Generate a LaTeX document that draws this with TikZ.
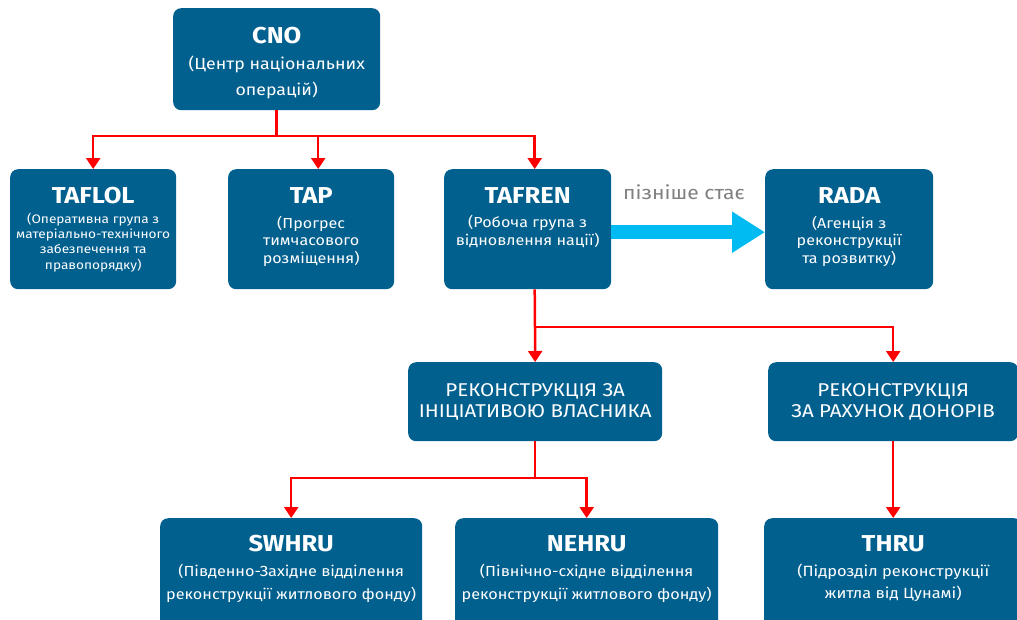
\documentclass[tikz,border=0pt]{standalone}
\usepackage{fontspec}
\setmainfont{Fira Sans}[FakeStretch=1.11]
\usetikzlibrary{arrows.meta}
\definecolor{boxblue}{HTML}{02608F}
\definecolor{arrcyan}{HTML}{00BAF2}
\definecolor{linered}{HTML}{FF0000}
\definecolor{notegray}{HTML}{808080}
% #1 width, #2 height, #3 title baseline, #4 title, #5 gap, #6 size, #7 lead, #8 lines
\newcommand\orgbox[8]{\parbox[c][#2][t]{#1}{\parskip=0pt\centering\rule{0pt}{#3}{\fontsize{23}{23}\selectfont\bfseries #4}\par\vspace{\dimexpr#5-#7\relax}\fontsize{#6}{#7}\selectfont #8\par}}
% #1 width, #2 height, #3 first baseline, #4 size, #5 lead, #6 lines
\newcommand\midbox[6]{\parbox[c][#2][t]{#1}{\parskip=0pt\centering\fontsize{#4}{#5}\selectfont\rule{0pt}{#3}#6\par}}
\begin{document}
\begin{tikzpicture}[x=1pt,y=-1pt,
  orgnode/.style={fill=boxblue, rounded corners=8pt, inner sep=0pt, text=white, anchor=north west},
  link/.style={draw=linered, line width=2.5pt, line join=miter},
  linkarrow/.style={link, -{Triangle[width=14pt,length=11pt]}},
  note/.style={text=notegray, font=\fontsize{19}{19}\selectfont}]
\useasboundingbox (0,0) rectangle (1017,619);
\clip (0,0) rectangle (1017,619);

\node[orgnode] (cno) at (173,8) {\orgbox{207pt}{102pt}{35pt}{CNO}{26pt}{16}{26pt}{(Центр національних\\операцій)}};
\node[orgnode] (taflol) at (10,169) {\orgbox{166pt}{120pt}{34pt}{TAFLOL}{20pt}{12.3}{15.3pt}{(Оперативна група з\\матеріально-технічного\\забезпечення та\\правопорядку)}};
\node[orgnode] (tap) at (228,169) {\orgbox{166pt}{120pt}{34pt}{TAP}{25pt}{14.5}{17.5pt}{(Прогрес\\тимчасового\\розміщення)}};
\node[orgnode] (tafren) at (444,169) {\orgbox{167pt}{120pt}{34pt}{TAFREN}{24pt}{14.5}{18pt}{(Робоча група з\\відновлення нації)}};
\node[orgnode] (rada) at (765,169) {\orgbox{168pt}{120pt}{34pt}{RADA}{25pt}{14.5}{17.5pt}{(Агенція з\\реконструкції\\та розвитку)}};
\node[orgnode] (m1) at (408,362) {\midbox{254pt}{79pt}{34pt}{18.5}{21pt}{РЕКОНСТРУКЦІЯ ЗА\\ІНІЦІАТИВОЮ ВЛАСНИКА}};
\node[orgnode] (m2) at (768,362) {\midbox{250pt}{79pt}{34pt}{18.5}{21pt}{РЕКОНСТРУКЦІЯ\\ЗА РАХУНОК ДОНОРІВ}};
\node[orgnode] (swhru) at (160,518) {\orgbox{262pt}{110pt}{33pt}{SWHRU}{25pt}{14.6}{23.5pt}{(Південно-Західне відділення\\\mbox{реконструкції житлового фонду)}}};
\node[orgnode] (nehru) at (455,518) {\orgbox{263pt}{110pt}{33pt}{NEHRU}{25pt}{14.6}{23.5pt}{(Північно-східне відділення\\\mbox{реконструкції житлового фонду)}}};
\node[orgnode] (thru) at (764,518) {\orgbox{258pt}{110pt}{33pt}{THRU}{25pt}{14.8}{22pt}{(Підрозділ реконструкції\\житла від Цунамі)}};

\node[note] (later) at (684,192) {пізніше стає};

\coordinate (j1) at (cno.south |- 0,136);
\coordinate (j2) at (535,327);
\coordinate (j3) at (m1.south |- 0,478);

\draw[link] (cno.south) -- (j1);
\draw[linkarrow] (j1) -| (taflol.north);
\draw[linkarrow] (j1) -| ([xshift=7pt]tap.north);
\draw[linkarrow] (j1) -| ([xshift=7pt]tafren.north);
\draw[link] ([xshift=7pt]tafren.south) -- (j2);
\draw[linkarrow] (j2) -- (m1.north);
\draw[linkarrow] (j2) -| (m2.north);
\draw[link] (m1.south) -- (j3);
\draw[linkarrow] (j3) -| (swhru.north);
\draw[linkarrow] (j3) -| (nehru.north);
\draw[linkarrow] (m2.south) -- (thru.north);

\draw[arrcyan, line width=14pt, -{Triangle[width=39pt,length=33pt]}] ([yshift=-3pt]tafren.east) -- ([yshift=-3pt]rada.west);
\end{tikzpicture}
\end{document}
